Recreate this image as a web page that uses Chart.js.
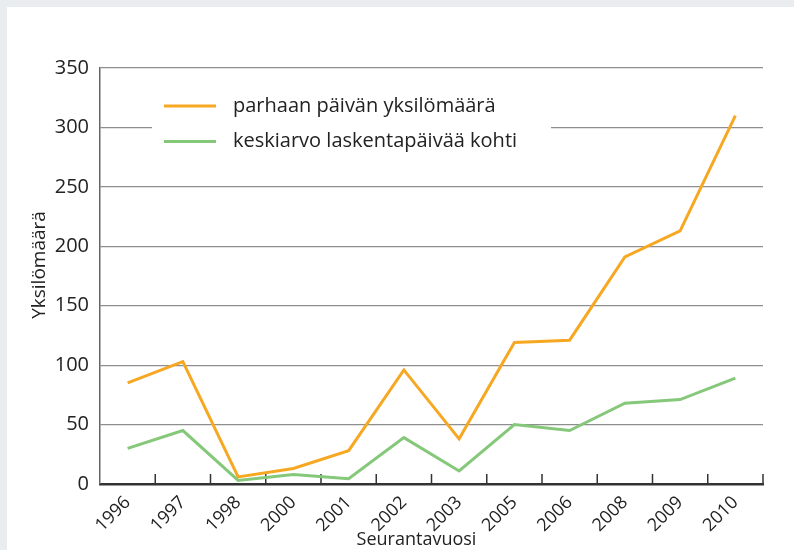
<!DOCTYPE html>
<html>
<head>
<meta charset="utf-8">
<script src="https://cdn.jsdelivr.net/npm/chart.js@4/dist/chart.umd.min.js"></script>
<style>
  html, body { margin: 0; padding: 0; background: #e9edf0; }
  #wrap { position: absolute; left: 7px; top: 7px; width: 787px; height: 543px; background: #fff; }
  canvas { display: block; }
</style>
</head>
<body>
<div id="wrap"><canvas id="c" width="787" height="543"></canvas></div>
<script>
const years = ['1996','1997','1998','2000','2001','2002','2003','2005','2006','2008','2009','2010'];
const bestDay = [85, 103, 6, 13, 28, 96, 38, 119, 121, 191, 213, 310];
const avgPerDay = [30, 45, 3, 8, 4.5, 39, 11, 50, 45, 68, 71, 89];
const seriesLabels = ['parhaan päivän yksilömäärä', 'keskiarvo laskentapäivää kohti'];
const yTicks = [0, 50, 100, 150, 200, 250, 300, 350];
const xTitle = 'Seurantavuosi';
const yTitle = 'Yksilömäärä';

const FONT = '"Open Sans", "Noto Sans", sans-serif';
const TXT = '#222';

const extras = {
  id: 'extras',
  beforeDatasetsDraw(chart) {
    const ctx = chart.ctx, a = chart.chartArea;
    ctx.save();
    ctx.fillStyle = '#fff';
    ctx.fillRect(a.left + 52, a.top + 12, 399, 78);
    const rows = [a.top + 38, a.top + 73.5];
    chart.data.datasets.forEach((ds, i) => {
      ctx.strokeStyle = ds.borderColor;
      ctx.lineWidth = 3;
      ctx.beginPath();
      ctx.moveTo(a.left + 64, rows[i]);
      ctx.lineTo(a.left + 116, rows[i]);
      ctx.stroke();
      ctx.fillStyle = TXT;
      ctx.font = '20px ' + FONT;
      ctx.textBaseline = 'middle';
      ctx.textAlign = 'left';
      ctx.fillText(ds.label, a.left + 133, rows[i]);
    });
    const xs = chart.scales.x;
    ctx.strokeStyle = '#333';
    ctx.lineWidth = 1.5;
    const n = years.length;
    for (let i = 1; i <= n; i++) {
      let x;
      if (i < n) x = (xs.getPixelForTick(i - 1) + xs.getPixelForTick(i)) / 2;
      else x = a.right;
      ctx.beginPath();
      ctx.moveTo(x, a.bottom);
      ctx.lineTo(x, a.bottom - 10);
      ctx.stroke();
    }
    ctx.restore();
  },
  afterDraw(chart) {
    const ctx = chart.ctx, a = chart.chartArea;
    ctx.save();
    ctx.fillStyle = TXT;
    ctx.font = '18px ' + FONT;
    ctx.textAlign = 'center';
    ctx.textBaseline = 'alphabetic';
    ctx.fillText(xTitle, (a.left + a.right) / 2 - 15, 538);
    ctx.font = '19px ' + FONT;
    ctx.translate(33, (a.top + a.bottom) / 2 - 11);
    ctx.rotate(-Math.PI / 2);
    ctx.textBaseline = 'middle';
    ctx.fillText(yTitle, 0, 0);
    ctx.restore();
  }
};

new Chart(document.getElementById('c'), {
  type: 'line',
  data: {
    labels: years,
    datasets: [
      { label: seriesLabels[0], data: bestDay, borderColor: '#f7a823', borderWidth: 3, pointRadius: 0, tension: 0, fill: false },
      { label: seriesLabels[1], data: avgPerDay, borderColor: '#85c87a', borderWidth: 3, pointRadius: 0, tension: 0, fill: false }
    ]
  },
  options: {
    responsive: false,
    animation: false,
    devicePixelRatio: 1,
    layout: { padding: { top: 61, right: 31, left: 0, bottom: 0 } },
    plugins: { legend: { display: false }, tooltip: { enabled: false } },
    scales: {
      x: {
        offset: true,
        grid: { display: false, drawTicks: false },
        border: { display: true, color: '#333', width: 2.5 },
        ticks: { autoSkip: false, minRotation: 45, maxRotation: 45, padding: 8, color: TXT, font: { family: FONT, size: 18 } },
        afterFit(s) { s.height = 66; }
      },
      y: {
        min: 0, max: 350,
        afterBuildTicks(s) { s.ticks = yTicks.map(v => ({ value: v })); },
        grid: { color: (c) => c.tick && c.tick.value === 0 ? 'rgba(0,0,0,0)' : '#8e8e8e', lineWidth: 1.2, drawTicks: false },
        border: { display: true, color: '#666', width: 1.5 },
        ticks: { padding: 11, color: TXT, font: { family: FONT, size: 20 } },
        afterFit(s) { s.width = 93; }
      }
    }
  },
  plugins: [extras]
});
</script>
</body>
</html>
